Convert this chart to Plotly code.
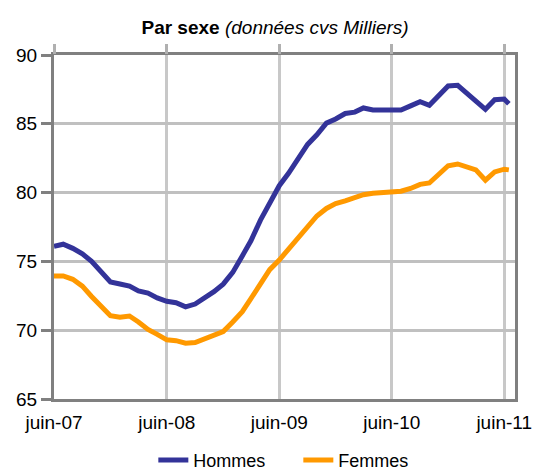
import plotly.graph_objects as go

dates = [f"{2007 + (5 + i) // 12}-{(5 + i) % 12 + 1:02d}-01" for i in range(49)] + ["2011-06-16"]

hommes = [76.1, 76.25, 75.95, 75.55, 75.0, 74.3, 73.5, 73.36, 73.2, 72.85,
          72.7, 72.35, 72.1, 72.0, 71.7, 71.9, 72.3, 72.8, 73.35, 74.2,
          75.4, 76.5, 78.0, 79.2, 80.5, 81.4, 82.4, 83.5, 84.2, 85.05,
          85.35, 85.75, 85.85, 86.15, 86.0, 86.0, 86.0, 86.0, 86.3, 86.6,
          86.35, 87.0, 87.75, 87.8, 87.2, 86.75, 86.05, 86.75, 86.8, 86.45]

femmes = [73.94, 73.94, 73.7, 73.2, 72.45, 71.8, 71.05, 70.94, 71.03, 70.6,
          70.05, 69.7, 69.3, 69.24, 69.05, 69.1, 69.35, 69.65, 69.9, 70.6,
          71.35, 72.3, 73.45, 74.4, 75.1, 75.9, 76.7, 77.5, 78.3, 78.85,
          79.2, 79.4, 79.6, 79.85, 79.95, 79.98, 80.05, 80.1, 80.3, 80.6,
          80.7, 81.3, 81.95, 82.08, 81.9, 81.65, 80.9, 81.5, 81.7, 81.65]

tick_vals = ["2007-06-01", "2008-06-01", "2009-06-01", "2010-06-01", "2011-06-01"]
tick_text = ["juin-07", "juin-08", "juin-09", "juin-10", "juin-11"]

FONT = "Liberation Sans, Arial, sans-serif"
x_range = ["2007-06-01", "2011-07-06"]

fig = go.Figure()
fig.add_trace(go.Scatter(x=dates, y=hommes, name="Hommes", mode="lines",
                         line=dict(color="#333399", width=5)))
fig.add_trace(go.Scatter(x=dates, y=femmes, name="Femmes", mode="lines",
                         line=dict(color="#FF9900", width=5)))
# invisible trace to anchor the top tick axis
fig.add_trace(go.Scatter(x=dates, y=hommes, xaxis="x2", mode="lines",
                         line=dict(width=0), opacity=0, showlegend=False,
                         hoverinfo="skip"))

fig.update_layout(
    width=532, height=466,
    margin=dict(l=46, r=25, t=47, b=75, autoexpand=False),
    paper_bgcolor="white", plot_bgcolor="white",
    font=dict(family=FONT, color="black"),
    title=dict(text="<b>Par sexe</b> <i>(données cvs Milliers)</i>",
               x=0.502, xanchor="center", y=0.958, yanchor="middle",
               font=dict(size=19, family=FONT, color="black")),
    xaxis=dict(type="date", range=x_range, tickvals=tick_vals, ticktext=tick_text,
               showgrid=True, gridcolor="#c8c8c8", gridwidth=3,
               showline=True, linecolor="#808080", linewidth=3, mirror=True,
               ticks="", tickfont=dict(size=19, family=FONT), ticklabelstandoff=4,
               zeroline=False, automargin=False),
    xaxis2=dict(type="date", range=x_range, tickvals=tick_vals, overlaying="x",
                side="top", showgrid=False, showline=False, ticks="outside",
                ticklen=10, tickwidth=3, tickcolor="#b0b0b0",
                showticklabels=False, zeroline=False, automargin=False),
    yaxis=dict(range=[65, 90], dtick=5, showgrid=True, gridcolor="#c0c0c0",
               gridwidth=3, showline=True, linecolor="#808080", linewidth=3,
               mirror=True, ticks="outside", ticklen=10, tickwidth=3,
               tickcolor="#808080", tickfont=dict(size=19, family=FONT),
               zeroline=False, automargin=False),
    legend=dict(orientation="h", x=0.53, xanchor="center", y=-0.178,
                yanchor="middle", font=dict(size=18, family=FONT),
                entrywidth=100, entrywidthmode="pixels",
                bgcolor="rgba(0,0,0,0)"),
    showlegend=True,
)

fig.write_html("out.html")
